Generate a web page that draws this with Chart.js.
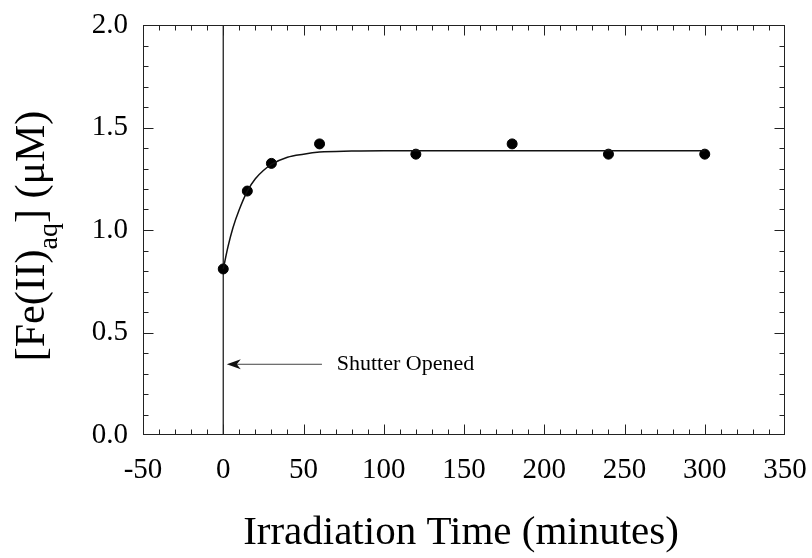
<!DOCTYPE html>
<html>
<head>
<meta charset="utf-8">
<script src="https://cdn.jsdelivr.net/npm/chart.js@4"></script>
<style>
  html, body { margin: 0; padding: 0; background: #fff; }
  #wrap { width: 812px; height: 558px; }
</style>
</head>
<body>
<div id="wrap"><canvas id="fe-chart" width="812" height="558"></canvas></div>
<script>
// measured iron(II) points
const timeMin = [0, 15, 30, 60, 120, 180, 240, 300];
const feConc = [0.81, 1.19, 1.325, 1.42, 1.37, 1.42, 1.37, 1.37];

// fitted curve
const fitTime = [0, 3, 6, 10, 15, 20, 25, 30, 40, 50, 60, 80, 100, 150, 200, 250, 300];
const fitConc = [0.81, 0.92, 1.01, 1.10, 1.19, 1.25, 1.29, 1.32, 1.355, 1.37, 1.38, 1.385, 1.387, 1.387, 1.387, 1.387, 1.387];

// shutter marker
const shutterX = [0, 0];
const shutterY = [0, 2];

const xTicks = [-50, 0, 50, 100, 150, 200, 250, 300, 350];
const yTicks = [0.0, 0.5, 1.0, 1.5, 2.0];

const SERIF = '"Liberation Serif", "DejaVu Serif", serif';

const frameAndText = {
    id: 'frameAndText',
    afterDraw(chart) {
        const ctx = chart.ctx;
        const a = chart.chartArea;
        const xs = chart.scales.x;
        const ys = chart.scales.y;
        const L = a.left + 0.5, R = a.right - 0.5, T = a.top + 0.5, B = a.bottom - 0.5;
        ctx.save();

        // frame
        ctx.strokeStyle = '#222';
        ctx.lineWidth = 1;
        ctx.strokeRect(L, T, R - L, B - T);

        // inward ticks, all four sides
        ctx.beginPath();
        for (let v = -50; v <= 350; v += 10) {
            const px = Math.min(R, Math.max(L, Math.round(xs.getPixelForValue(v)) + 0.5));
            const len = (v % 50 === 0) ? 10 : 5;
            ctx.moveTo(px, B); ctx.lineTo(px, B - len);
            ctx.moveTo(px, T); ctx.lineTo(px, T + len);
        }
        for (let i = 0; i <= 20; i++) {
            const v = i / 10;
            const py = Math.min(B, Math.max(T, Math.round(ys.getPixelForValue(v)) + 0.5));
            const len = (i % 5 === 0) ? 10 : 5;
            ctx.moveTo(L, py); ctx.lineTo(L + len, py);
            ctx.moveTo(R, py); ctx.lineTo(R - len, py);
        }
        ctx.stroke();

        // arrow + label
        const ay = ys.getPixelForValue(0.345);
        const tipX = xs.getPixelForValue(2.2);
        const tailX = xs.getPixelForValue(61.5);
        ctx.strokeStyle = '#444';
        ctx.lineWidth = 1;
        ctx.beginPath();
        ctx.moveTo(tailX, ay); ctx.lineTo(tipX + 8, ay);
        ctx.stroke();
        ctx.fillStyle = '#111';
        ctx.beginPath();
        ctx.moveTo(tipX, ay);
        ctx.lineTo(tipX + 14, ay - 5);
        ctx.lineTo(tipX + 10, ay);
        ctx.lineTo(tipX + 14, ay + 5);
        ctx.closePath();
        ctx.fill();

        ctx.fillStyle = '#000';
        ctx.font = '22px ' + SERIF;
        ctx.textAlign = 'left';
        ctx.textBaseline = 'middle';
        ctx.fillText('Shutter Opened', xs.getPixelForValue(70.7), ay);

        // x title
        ctx.font = '41px ' + SERIF;
        ctx.textAlign = 'center';
        ctx.textBaseline = 'alphabetic';
        ctx.fillText('Irradiation Time (minutes)', 461, 544);

        // y title with subscript
        ctx.translate(44, 236);
        ctx.rotate(-Math.PI / 2);
        const big = '42px ' + SERIF;
        const small = '28px ' + SERIF;
        const parts = [['[Fe(II)', big, 0], ['aq', small, 13], [']', big, 0], [' (\u03BCM)', big, 0]];
        let total = 0;
        for (const p of parts) { ctx.font = p[1]; total += ctx.measureText(p[0]).width; }
        let x = -total / 2;
        ctx.textAlign = 'left';
        for (const p of parts) {
            ctx.font = p[1];
            ctx.fillText(p[0], x, p[2]);
            x += ctx.measureText(p[0]).width;
        }
        ctx.restore();
    }
};

new Chart(document.getElementById('fe-chart'), {
    type: 'scatter',
    data: {
        datasets: [
            {
                label: 'fit',
                data: fitTime.map((t, i) => ({ x: t, y: fitConc[i] })),
                showLine: true,
                borderColor: '#111',
                borderWidth: 1.5,
                pointRadius: 0,
                cubicInterpolationMode: 'monotone'
            },
            {
                label: 'Fe(II)',
                data: timeMin.map((t, i) => ({ x: t, y: feConc[i] })),
                backgroundColor: '#000',
                borderColor: '#000',
                pointRadius: 5,
                showLine: false
            },
            {
                label: 'shutter',
                data: shutterX.map((t, i) => ({ x: t, y: shutterY[i] })),
                showLine: true,
                borderColor: '#222',
                borderWidth: 1.3,
                pointRadius: 0
            }
        ]
    },
    options: {
        responsive: false,
        animation: false,
        layout: { padding: { top: 25, right: 27, left: 0, bottom: 0 } },
        plugins: { legend: { display: false }, tooltip: { enabled: false } },
        scales: {
            x: {
                type: 'linear',
                min: -50, max: 350,
                afterFit(scale) {
                    scale.height = 123;
                    scale.paddingLeft = 0; scale.paddingRight = 0;
                },
                afterBuildTicks(scale) { scale.ticks = xTicks.map(v => ({ value: v })); },
                grid: { display: false, drawTicks: false },
                border: { display: false },
                ticks: { color: '#000', padding: 18, font: { family: SERIF, size: 29 }, maxRotation: 0 }
            },
            y: {
                type: 'linear',
                min: 0, max: 2,
                afterFit(scale) {
                    scale.width = 143;
                    scale.paddingTop = 0; scale.paddingBottom = 0;
                },
                afterBuildTicks(scale) { scale.ticks = yTicks.map(v => ({ value: v })); },
                grid: { display: false, drawTicks: false },
                border: { display: false },
                ticks: { color: '#000', padding: 15, font: { family: SERIF, size: 29 }, callback: v => v.toFixed(1) }
            }
        }
    },
    plugins: [frameAndText]
});
</script>
</body>
</html>
